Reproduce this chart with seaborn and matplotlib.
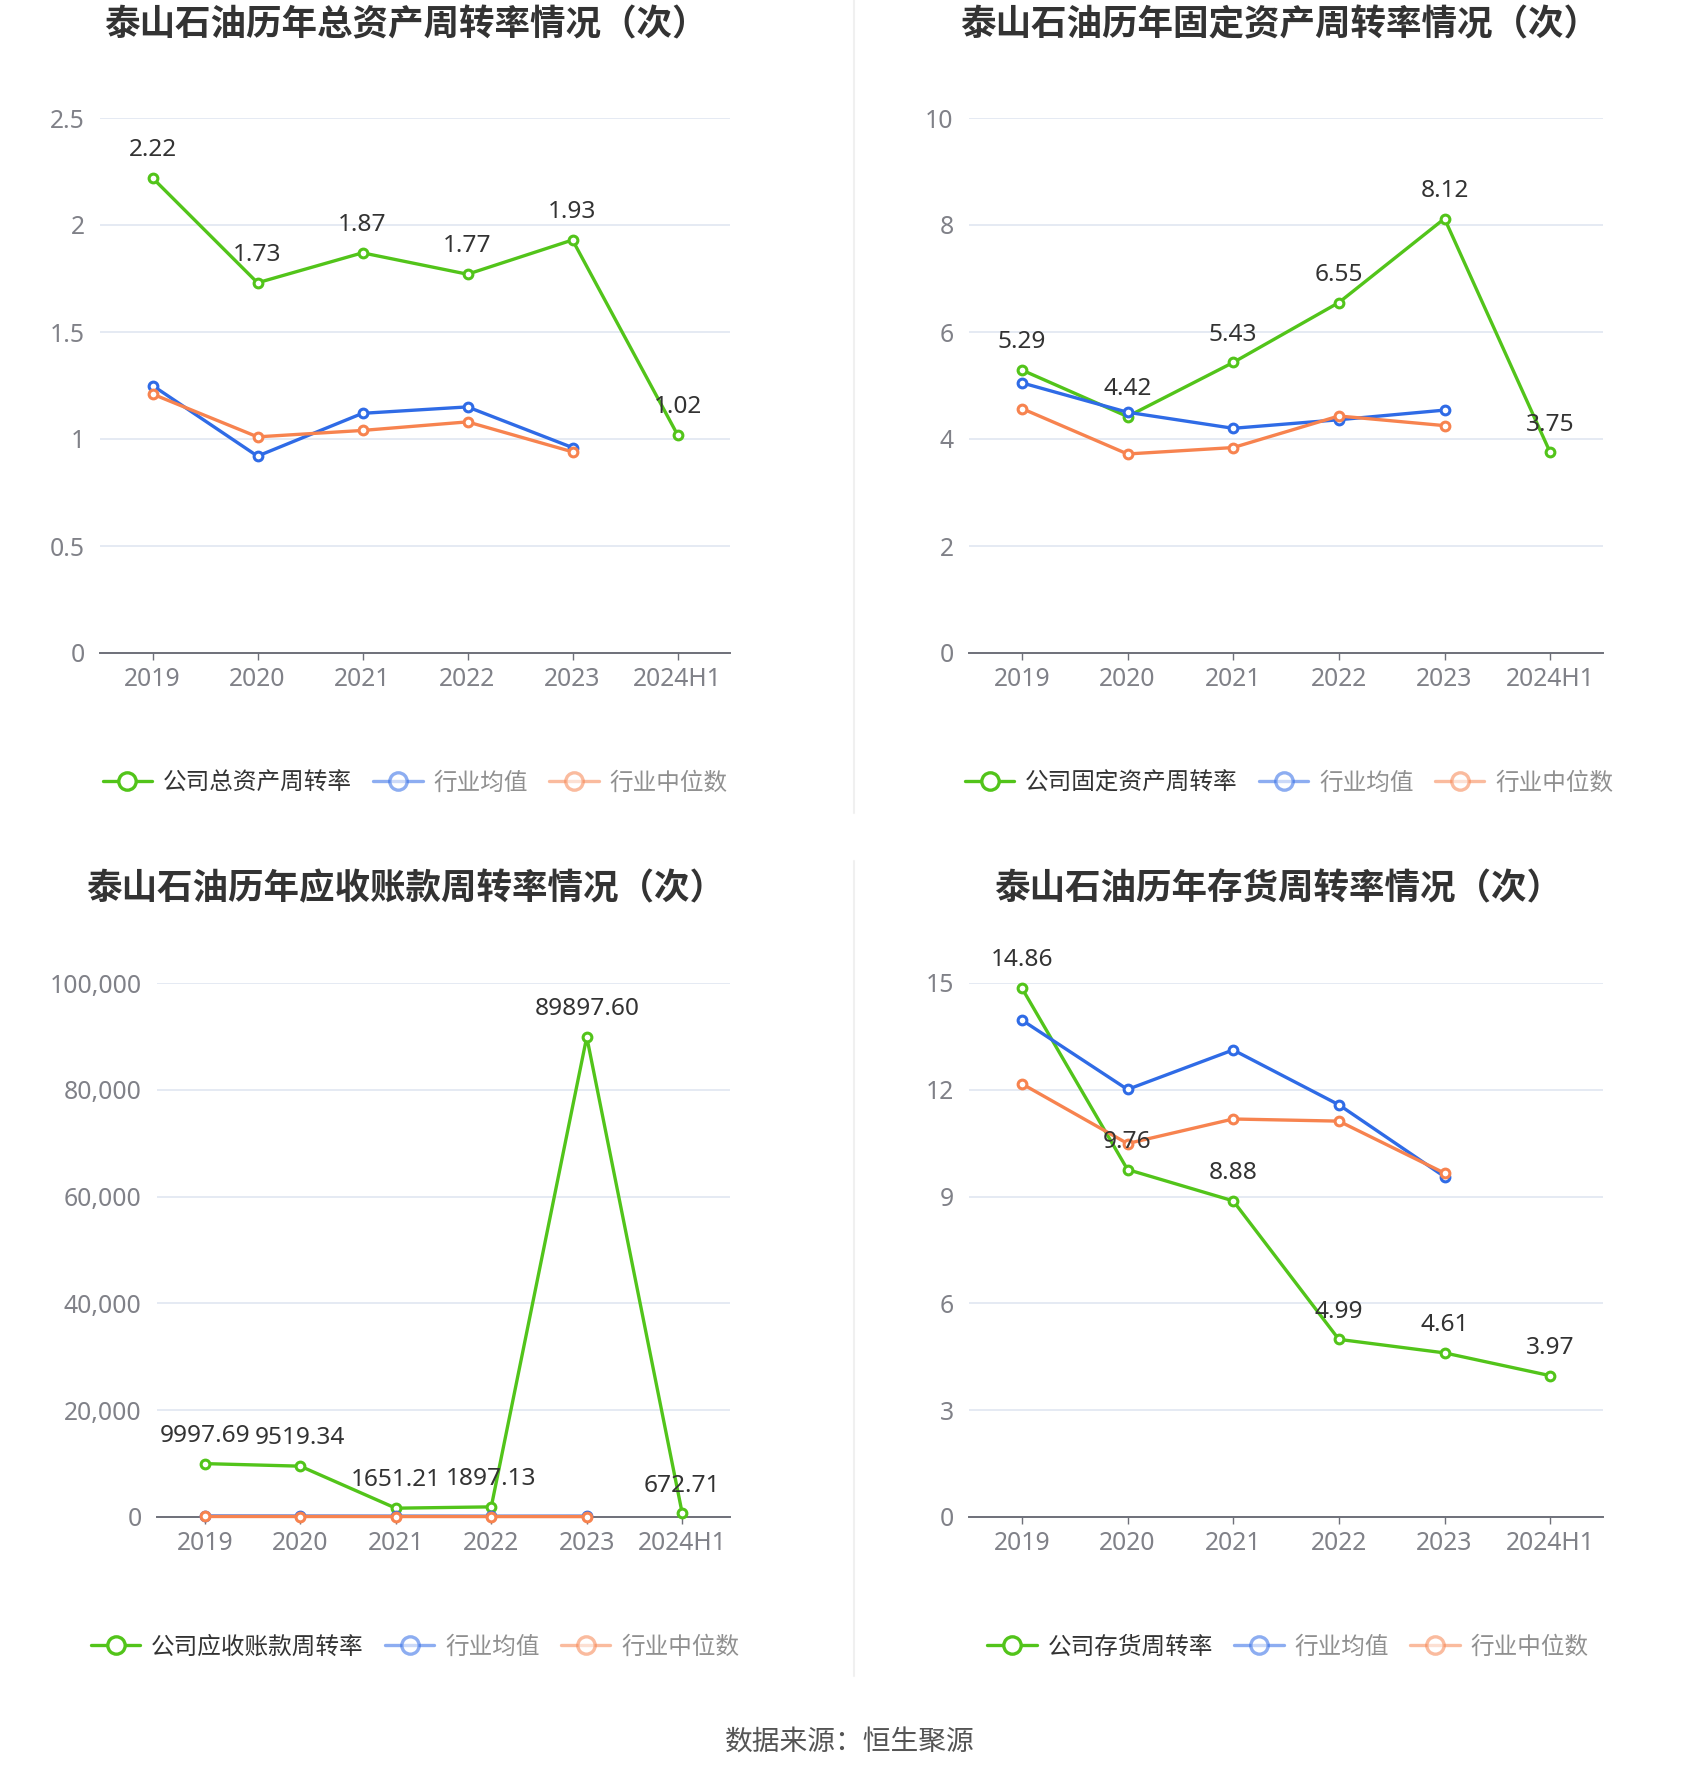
import numpy as np
import matplotlib
matplotlib.use("Agg")
import matplotlib.pyplot as plt
from matplotlib.lines import Line2D
from matplotlib.ticker import FuncFormatter
import seaborn as sns

sns.set_theme(style="white")
plt.rcParams['font.family'] = ['Noto Sans', 'Noto Sans CJK SC', 'DejaVu Sans']
CJK = ['Noto Sans CJK SC', 'DejaVu Sans']

years = ["2019", "2020", "2021", "2022", "2023", "2024H1"]
ind_years = ["2019", "2020", "2021", "2022", "2023"]

# 总资产周转率
ta_company = [2.22, 1.73, 1.87, 1.77, 1.93, 1.02]
ta_mean = [1.25, 0.92, 1.12, 1.15, 0.96]
ta_median = [1.21, 1.01, 1.04, 1.08, 0.94]

# 固定资产周转率
fa_company = [5.29, 4.42, 5.43, 6.55, 8.12, 3.75]
fa_mean = [5.05, 4.50, 4.20, 4.36, 4.54]
fa_median = [4.57, 3.72, 3.84, 4.43, 4.25]

# 应收账款周转率
ar_company = [9997.69, 9519.34, 1651.21, 1897.13, 89897.60, 672.71]
ar_mean = [180.0, 165.0, 150.0, 140.0, 150.0]
ar_median = [95.0, 90.0, 85.0, 80.0, 75.0]

# 存货周转率
inv_company = [14.86, 9.76, 8.88, 4.99, 4.61, 3.97]
inv_mean = [13.96, 12.01, 13.12, 11.58, 9.56]
inv_median = [12.17, 10.49, 11.18, 11.12, 9.66]

titles = ["泰山石油历年总资产周转率情况（次）", "泰山石油历年固定资产周转率情况（次）",
          "泰山石油历年应收账款周转率情况（次）", "泰山石油历年存货周转率情况（次）"]
company_names = ["公司总资产周转率", "公司固定资产周转率", "公司应收账款周转率", "公司存货周转率"]
mean_name = "行业均值"
median_name = "行业中位数"
yticks_list = [[0, 0.5, 1, 1.5, 2, 2.5], [0, 2, 4, 6, 8, 10],
               [0, 20000, 40000, 60000, 80000, 100000], [0, 3, 6, 9, 12, 15]]
footer = "数据来源：恒生聚源"

GREEN = "#52c41a"
BLUE = "#2f6be6"
ORANGE = "#f7834f"

W, H = 1700, 1782
fig = plt.figure(figsize=(W / 100, H / 100), dpi=100)
fig.patch.set_facecolor("white")

def px_rect(l, r, t, b):
    return [l / W, 1 - b / H, (r - l) / W, (b - t) / H]

axes_px = [(100, 730, 118, 653), (969, 1603, 118, 653),
           (157, 730, 983, 1517), (969, 1603, 983, 1517)]
title_pos = [(406, 25), (1280, 25), (406, 889), (1278, 889)]
legend_pos = [(415, 783), (1289, 783), (415, 1647), (1288, 1647)]

datasets = [(ta_company, ta_mean, ta_median), (fa_company, fa_mean, fa_median),
            (ar_company, ar_mean, ar_median), (inv_company, inv_mean, inv_median)]

x_all = np.arange(len(years))
x_ind = np.arange(len(ind_years))

for k in range(4):
    ax = fig.add_axes(px_rect(*axes_px[k]))
    comp, mean, med = datasets[k]
    common = dict(marker="o", markersize=6.3, markerfacecolor="white",
                  markeredgewidth=2.2, linewidth=2.4, ax=ax, clip_on=False)
    sns.lineplot(x=x_all, y=comp, color=GREEN, markeredgecolor=GREEN, zorder=3, **common)
    sns.lineplot(x=x_ind, y=mean, color=BLUE, markeredgecolor=BLUE, zorder=4, **common)
    sns.lineplot(x=x_ind, y=med, color=ORANGE, markeredgecolor=ORANGE, zorder=5, **common)

    yt = yticks_list[k]
    ax.set_ylim(yt[0], yt[-1])
    ax.set_xlim(-0.5, len(years) - 0.5)
    ax.set_yticks(yt)
    if k == 2:
        ax.yaxis.set_major_formatter(FuncFormatter(lambda v, p: f"{int(v):,}"))
    else:
        ax.yaxis.set_major_formatter(FuncFormatter(lambda v, p: f"{v:g}"))
    ax.set_xticks(x_all)
    ax.set_xticklabels(years)
    for yv in yt[1:]:
        ax.axhline(yv, color="#e0e6f1", lw=1.2, zorder=1)
    for s in ["top", "right", "left"]:
        ax.spines[s].set_visible(False)
    ax.spines["bottom"].set_color("#6e7079")
    ax.spines["bottom"].set_linewidth(1.4)
    ax.spines["bottom"].set_zorder(2)
    ax.tick_params(axis="x", direction="out", length=5, width=1.0, color="#6e7079",
                   labelsize=17.8, labelcolor="#808188", pad=5, bottom=True)
    ax.tick_params(axis="y", length=0, labelsize=17.8, labelcolor="#808188", pad=11, left=False)
    ax.set_xlabel("")
    ax.set_ylabel("")
    ax.set_facecolor("none")
    ax.grid(False)

    for i, v in enumerate(comp):
        txt = f"{v:.2f}"
        ax.annotate(txt, (i, v), xytext=(0, 20), textcoords="offset points",
                    ha="center", va="center", fontsize=17.6, color="#333333", zorder=10)

    handles = [
        Line2D([0], [0], color=GREEN, lw=2.4, marker="o", markersize=12.5,
               markerfacecolor="white", markeredgecolor=GREEN, markeredgewidth=2.4),
        Line2D([0], [0], color=BLUE, lw=2.4, marker="o", markersize=12.5, alpha=0.55,
               markerfacecolor="white", markeredgecolor=BLUE, markeredgewidth=2.4),
        Line2D([0], [0], color=ORANGE, lw=2.4, marker="o", markersize=12.5, alpha=0.55,
               markerfacecolor="white", markeredgecolor=ORANGE, markeredgewidth=2.4),
    ]
    lx, ly = legend_pos[k]
    leg = ax.legend(handles, [company_names[k], mean_name, median_name],
                    loc="center", bbox_to_anchor=(lx / W, 1 - ly / H),
                    bbox_transform=fig.transFigure, ncol=3, frameon=False,
                    prop={'family': CJK, 'size': 17}, handlelength=2.1, handletextpad=0.45,
                    columnspacing=0.9, borderpad=0, borderaxespad=0)
    texts = leg.get_texts()
    texts[0].set_color("#333333")
    texts[1].set_color("#909090")
    texts[2].set_color("#909090")

    tx, ty = title_pos[k]
    fig.text(tx / W, 1 - ty / H, titles[k], ha="center", va="center", family=CJK,
             fontsize=25.6, fontweight="heavy", color="#333333")

# vertical divider
fig.add_artist(Line2D([854 / W, 854 / W], [1 - 0 / H, 1 - 813 / H], color="#f0f0f0", lw=1.5))
fig.add_artist(Line2D([854 / W, 854 / W], [1 - 861 / H, 1 - 1676 / H], color="#f0f0f0", lw=1.5))

fig.text(850 / W, 1 - 1743 / H, footer, ha="center", va="center", fontsize=20,
         family=CJK, color="#555555")

fig.savefig("out.png", dpi=100, facecolor="white")
